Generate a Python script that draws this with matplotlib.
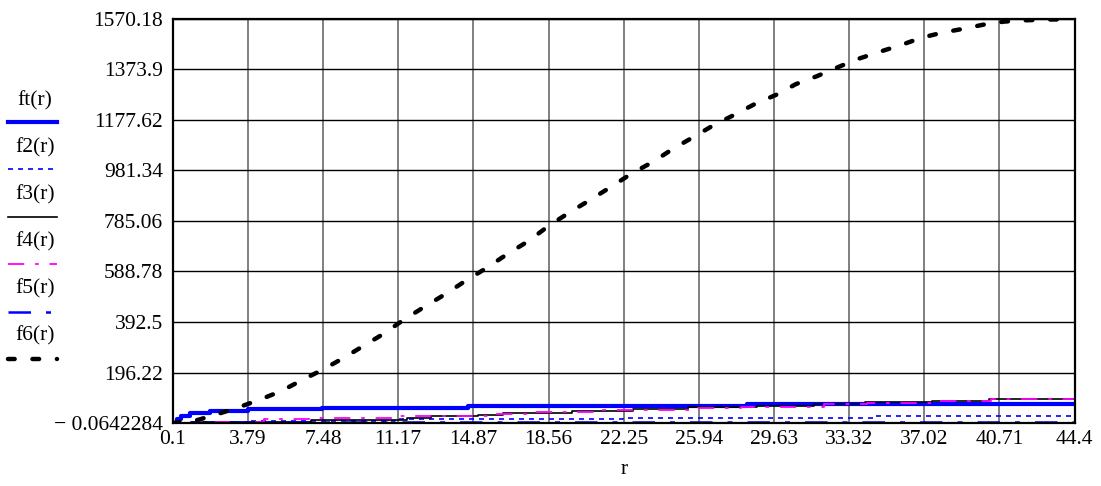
import matplotlib
matplotlib.use('agg')
import matplotlib.pyplot as plt
from matplotlib.lines import Line2D

plt.rcParams['font.family'] = ['Liberation Serif', 'DejaVu Serif']

# f6(r): the big dashed curve
r6 = [0.1, 1.33, 2.31, 3.3, 4.38, 5.42, 6.45, 7.43, 8.47, 9.45, 10.44, 11.42, 12.45,
      13.49, 14.47, 15.5, 16.54, 17.57, 18.56, 19.54, 20.58, 21.61, 22.69, 23.67,
      24.66, 25.69, 26.68, 27.67, 28.7, 29.73, 30.71, 31.75, 32.78, 33.77, 34.8,
      35.88, 36.87, 37.85, 38.93, 39.92, 40.95, 42.0, 43.2, 44.4]
f6 = [0, 12, 35, 60, 91, 124, 167, 206, 252, 299, 346, 400, 451, 501, 552, 602, 657,
      707, 766, 816, 866, 917, 972, 1014, 1065, 1112, 1158, 1197, 1240, 1275, 1317,
      1348, 1383, 1415, 1442, 1469, 1497, 1516, 1532, 1548, 1560, 1565, 1568, 1569]

# staircase series (value holds until next r)
r1 = [0.1, 0.3, 0.5, 0.93, 1.92, 3.79, 7.43, 14.62, 28.3, 44.4]
ft = [0, 14, 27, 39, 47, 54, 58, 66, 74, 74]

r2 = [0.1, 1.0, 3.8, 11.0, 22.2, 34.5, 44.4]
f2 = [0, 4, 8, 14, 21, 29, 29]

r3 = [0.1, 1.0, 6.9, 11.6, 12.8, 15.1, 16.3, 19.7, 22.7, 25.4, 28.8, 31.6, 34.1,
      37.4, 40.2, 44.4]
f3 = [0, 5, 12, 21, 28, 33, 38, 46, 54, 61, 67, 74, 80, 87, 93, 93]

r4 = [0.1, 1.0, 4.6, 6.8, 11.1, 15.6, 17.8, 20.8, 25.9, 28.0, 32.1, 34.2, 37.4,
      40.3, 44.4]
f4 = [0, 5, 14, 18, 27, 34, 44, 50, 57, 63, 72, 79, 87, 95, 95]

r5 = [0.1, 1.0, 3.0, 44.4]
f5 = [0, 3, 5, 5]

xticks = [0.1, 3.79, 7.48, 11.17, 14.87, 18.56, 22.25, 25.94, 29.63, 33.32, 37.02,
          40.71, 44.4]
xlabels = ['0.1', '3.79', '7.48', '11.17', '14.87', '18.56', '22.25', '25.94',
           '29.63', '33.32', '37.02', '40.71', '44.4']
ymin, ymax = -0.0642284, 1570.18
yticks = [ymin + i * (ymax - ymin) / 8 for i in range(9)]
ylabels = ['\u2212 0.0642284', '196.22', '392.5', '588.78', '785.06', '981.34',
           '1177.62', '1373.9', '1570.18']

names = ['ft(r)', 'f2(r)', 'f3(r)', 'f4(r)', 'f5(r)', 'f6(r)']
styles = [
    dict(color='#0000ff', lw=3.0, ls='-'),
    dict(color='#0000ff', lw=1.2, ls=(0, (3, 3))),
    dict(color='black', lw=1.2, ls='-'),
    dict(color='#ff00ff', lw=1.3, ls=(0, (9, 6, 2, 6))),
    dict(color='#0000ff', lw=1.8, ls=(0, (9, 6, 2, 6))),
    dict(color='black', lw=3.2, ls=(0, (1.5, 4.0)), dash_capstyle='round'),
]

fig = plt.figure(figsize=(11.01, 4.86), dpi=100)
ax = fig.add_axes([0.157, 0.1296, 0.819, 0.8314])

ax.step(r1, ft, where='post', **styles[0])
ax.step(r2, f2, where='post', **styles[1])
ax.step(r3, f3, where='post', **styles[2])
ax.step(r4, f4, where='post', **styles[3])
ax.step(r5, f5, where='post', **styles[4])
ax.plot(r6, f6, **styles[5])

ax.set_xlim(0.1, 44.4)
ax.set_ylim(ymin, ymax)
ax.set_xticks(xticks)
ax.set_xticklabels(xlabels)
ax.set_yticks(yticks)
ax.set_yticklabels(ylabels)
ax.tick_params(length=0, labelsize=15.5)
ax.tick_params(axis='x', pad=5)
ax.tick_params(axis='y', pad=7)
ax.xaxis.grid(True, color='#808080', lw=1.4)
ax.yaxis.grid(True, color='black', lw=1.0)
ax.set_axisbelow(True)
for s in ax.spines.values():
    s.set_linewidth(1.6)
ax.set_xlabel('r', fontsize=15.5, labelpad=8)

# legend down the left side: label above, line sample below
for i, (n, st) in enumerate(zip(names, styles)):
    ylab = 1 - (101 + 47 * i) / 486
    yline = 1 - (122 + 47.4 * i) / 486
    fig.text(35 / 1101, ylab, n, ha='center', va='center', fontsize=15.5)
    fig.add_artist(Line2D([8 / 1101, 57 / 1101], [yline, yline],
                          transform=fig.transFigure, **st))

plt.savefig('out.png')
plt.close()
